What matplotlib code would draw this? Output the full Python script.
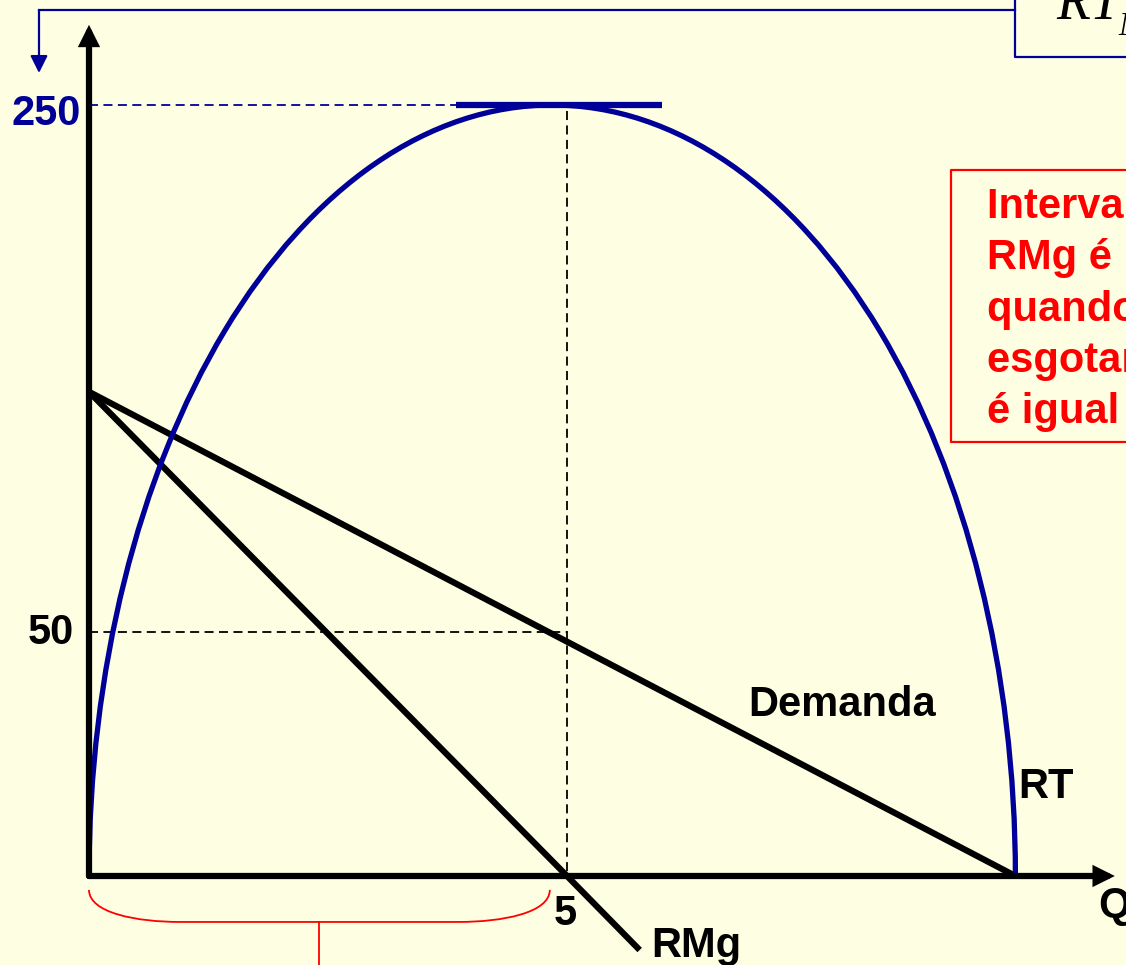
import matplotlib
matplotlib.use('Agg')
import matplotlib.pyplot as plt
from matplotlib.patches import Arc, PathPatch
from matplotlib.path import Path
from matplotlib.transforms import offset_copy

# valores do esboço (Q, R)
demanda_q = [0, 9.69]
demanda_r = [157, 0]
rmg_q = [0, 5, 5.76]
rmg_r = [157, 0, -24]
rt_q_fim = 9.69      # RT volta a zero
rt_q_pico = 4.84     # Q onde RT é máxima
rt_pico = 250
q_ref = 5            # Q onde RMg = 0
r_ref = 79           # nível marcado como "50" no esboço
r_labels = ['250', '50']
q_labels = ['5']
texto_caixa = ['Intervalo em que a', 'RMg é positiva;', 'quando se',
               'esgotam os ganhos', 'é igual a zero']

bg = '#FEFEE2'
blue = '#000099'
red = '#FF0000'
W, H = 1126, 965

fig = plt.figure(figsize=(W / 100, H / 100), dpi=100)
fig.patch.set_facecolor(bg)
ax = fig.add_axes([0, 0, 1, 1])
ax.set_facecolor(bg)
ax.set_xlim(-0.931, 10.847)
ax.set_ylim(-28.86, 284.05)
ax.axis('off')


def fp(x, y):
    # pixel da imagem -> pixel da figura (origem embaixo)
    return (x, H - y)


# linhas tracejadas de referência
ax.plot([0, rt_q_pico], [rt_pico, rt_pico], color=blue, lw=1.3, ls=(0, (5, 3)))
ax.plot([0, q_ref], [r_ref, r_ref], color='black', lw=1.3, ls=(0, (5, 3)))
ax.plot([q_ref, q_ref], [rt_pico - 2, 0], color='black', lw=1.3, ls=(0, (5, 3)))

# demanda e RMg
ax.plot(demanda_q, demanda_r, color='black', lw=4.5, solid_capstyle='butt', zorder=3)
ax.plot(rmg_q, rmg_r, color='black', lw=4.5, solid_capstyle='butt', zorder=3)

# RT (semi-elipse)
ax.add_patch(Arc((rt_q_fim / 2, 0), rt_q_fim, 2 * rt_pico, theta1=0, theta2=180,
                 color=blue, lw=3.8, zorder=4))
# tangente no ponto máximo
ax.plot([rt_q_pico - 1.0, rt_q_pico + 1.15], [rt_pico, rt_pico], color=blue, lw=4.5,
        solid_capstyle='butt', zorder=4)

# eixos
arrow = dict(arrowstyle='-|>', color='black', lw=4.5, mutation_scale=22,
             shrinkA=0, shrinkB=0, joinstyle='miter')
ax.annotate('', xy=(0, 276), xytext=(0, 0), arrowprops=arrow, zorder=5)
ax.annotate('', xy=(10.73, 0), xytext=(0, 0), arrowprops=arrow, zorder=5)

# rótulos dos eixos
bold = dict(family='Liberation Sans', weight='bold', fontsize=30)
ax.text(0, rt_pico, r_labels[0], color=blue, ha='right', va='baseline',
        transform=offset_copy(ax.transData, fig, x=-8, y=-20, units='dots'), **bold)
ax.text(0, r_ref, r_labels[1], color='black', ha='right', va='baseline',
        transform=offset_copy(ax.transData, fig, x=-15, y=-12, units='dots'), **bold)
ax.text(q_ref, 0, q_labels[0], color='black', ha='left', va='baseline',
        transform=offset_copy(ax.transData, fig, x=-13, y=-49, units='dots'), **bold)
ax.text(6.90, 51.9, 'Demanda', color='black', ha='left', va='baseline', **bold)
ax.text(9.72, 25.3, 'RT', color='black', ha='left', va='baseline', **bold)
ax.text(10.56, -13.3, 'Q', color='black', ha='left', va='baseline', **bold)
ax.text(5.88, -26.3, 'RMg', color='black', ha='left', va='baseline', **bold)

# chave vermelha sob o eixo Q
y0, y1 = -4.5, -14.9
qb = rt_q_pico - 0.02
verts = [(0, y0), (0, -12), (0.5, y1), (0.95, y1), (qb - 0.95, y1),
         (qb - 0.5, y1), (qb, -12), (qb, y0)]
codes = [Path.MOVETO, Path.CURVE4, Path.CURVE4, Path.CURVE4, Path.LINETO,
         Path.CURVE4, Path.CURVE4, Path.CURVE4]
ax.add_patch(PathPatch(Path(verts, codes), fill=False, edgecolor=red, lw=1.3))
ax.plot([qb / 2, qb / 2], [y1, -30], color=red, lw=1.3)

# seta azul e caixa no topo
ax.plot([39, 1015], [H - 10, H - 10], color=blue, lw=1.6, transform=None)
ax.annotate('', xy=fp(39, 73), xytext=fp(39, 10), xycoords='figure pixels',
            textcoords='figure pixels',
            arrowprops=dict(arrowstyle='-|>', color=blue, lw=1.6, mutation_scale=26,
                            shrinkA=0, shrinkB=0))
ax.plot([1015, 1015, 1130], [H + 5, H - 57, H - 57], color=blue, lw=1.6, transform=None)
fig.text(1056 / W, 1 - 19 / H, 'RT', family='Liberation Serif', style='italic',
         fontsize=40, color='black', ha='left', va='baseline')
fig.text(1118 / W, 1 - 35 / H, 'Máx', family='Liberation Serif', style='italic',
         fontsize=24, color='black', ha='left', va='baseline')

# caixa de texto vermelha
ax.plot([1130, 951, 951, 1130], [H - 170, H - 170, H - 442, H - 442], color=red,
        lw=1.6, transform=None)
for i, linha in enumerate(texto_caixa):
    fig.text(987 / W, 1 - (218 + 51.3 * i) / H, linha, color=red, family='Liberation Sans',
             weight='bold', fontsize=30, ha='left', va='baseline')

fig.savefig('out.png', dpi=100, facecolor=bg)
